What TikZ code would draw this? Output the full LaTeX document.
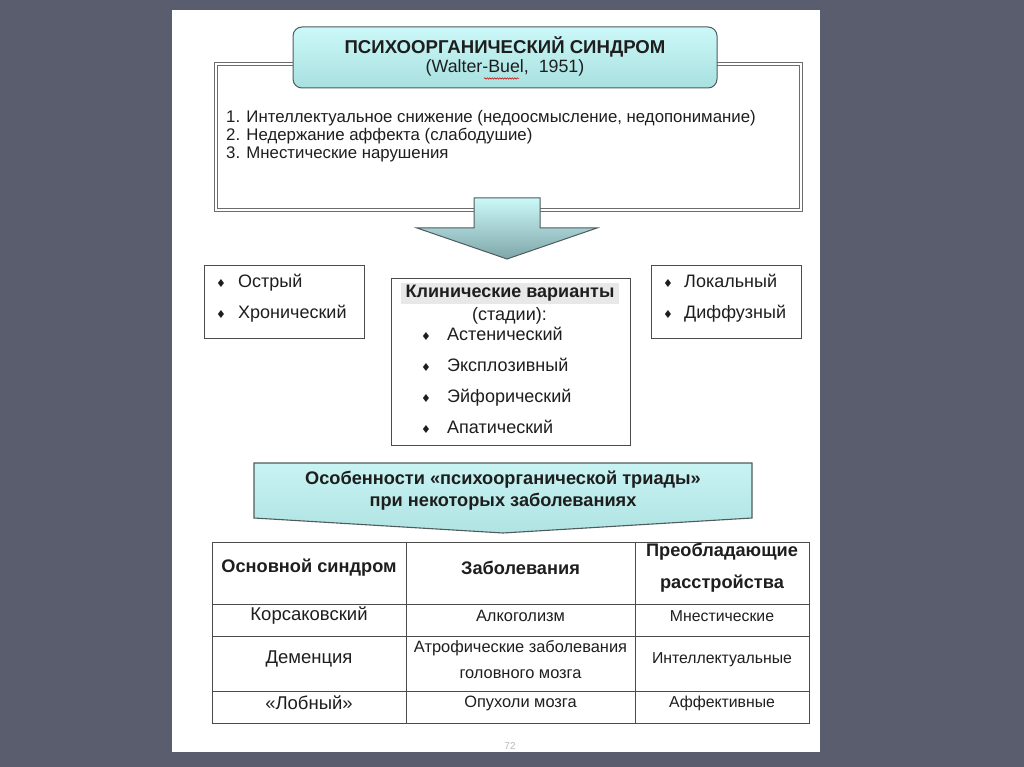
\documentclass[tikz,border=0pt]{standalone}
\usepackage{fontspec}
\setmainfont{Liberation Sans}
\newfontfamily\symfont{DejaVu Sans}
\usepackage{tikz}
\usetikzlibrary{calc}
\usetikzlibrary{decorations.pathmorphing}
\definecolor{slate}{HTML}{5A5D6E}
\definecolor{cyanhi}{HTML}{CCF8F8}
\definecolor{cyanlo}{HTML}{A8E0E0}
\definecolor{arrlo}{HTML}{7EA6A9}
\definecolor{bannhi}{HTML}{C8F3F3}
\definecolor{bannlo}{HTML}{B0E3E3}
\definecolor{edge}{HTML}{4F5B5C}
\definecolor{rim}{HTML}{6C6C6C}
\definecolor{ink}{HTML}{1E1E1E}
\newcommand{\fs}[2]{\fontsize{#1}{#2}\selectfont}
\newcommand{\bul}{{\symfont\fs{11}{11}\char"2666}}
\newcommand{\itm}[2]{\makebox[#1][l]{\bul}#2}

\begin{document}
\begin{tikzpicture}[x=1pt,y=-1pt]
\tikzstyle{box}=[draw=ink!80,line width=0.9pt,shape=rectangle,inner sep=0pt]
\tikzstyle{txt}=[text=ink,inner sep=0pt]
\tikzstyle{hcell}=[txt,align=center,font=\bfseries\fs{18.2}{32}]
\tikzstyle{cella}=[txt,align=center,font=\fs{18.5}{26}]
\tikzstyle{cellb}=[txt,align=center,font=\fs{16.4}{26}]
\tikzstyle{cellc}=[txt,align=center,font=\fs{15.8}{26}]

\useasboundingbox (0,0) rectangle (1024,767);
\fill[slate] (0,0) rectangle (1024,767);
\fill[white] (172,10) rectangle (820,752);
%
\node[draw=rim,double,double distance=1.6pt,line width=0.9pt,minimum width=585pt,minimum height=146pt](frame) at (508.5,137){};
\node[draw=edge,line width=1pt,rounded corners=9pt,top color=cyanhi,bottom color=cyanlo,minimum width=424pt,minimum height=61pt](title) at (505,57.5){};
\node[txt,font=\bfseries\fs{18.6}{20}](titlea) at (505,47){ПСИХООРГАНИЧЕСКИЙ СИНДРОМ};
\node[txt,font=\fs{17.8}{20}](titleb) at (505,68){(Walter-Buel,\ \ 1951)};
\draw[red!80!black,line width=0.5pt,decorate,decoration={snake,amplitude=0.7pt,segment length=2.5pt}] (484,78.5) -- (519,78.5);
\node[txt,anchor=north west,align=left,font=\fs{16.8}{18}](signs) at (226,110.5){1. Интеллектуальное снижение (недоосмысление, недопонимание)\\2. Недержание аффекта (слабодушие)\\3. Мнестические нарушения};
%
\draw[draw=edge,line width=1pt,top color=cyanhi,bottom color=arrlo] (474,198) -- (540,198) -- (540,228) -- (597,228) -- (507,259) -- (417,228) -- (474,228) -- cycle;
%
\node[box,minimum width=160pt,minimum height=73pt](course) at (284,301.5){};
\node[txt,anchor=west,align=left,font=\fs{18}{31}](courseitems) at (216,298.5){\itm{22pt}{Острый}\\\itm{22pt}{Хронический}};
\node[box,minimum width=239pt,minimum height=167pt](clin) at (510.5,361.5){};
\node[txt,fill=gray!18,inner xsep=4.5pt,inner ysep=2.5pt,font=\bfseries\fs{18}{18}](clinhead) at (510,293.5){Клинические варианты};
\node[txt,font=\fs{18}{18}](stages) at (509.5,316){(стадии):};
\node[txt,anchor=north west,align=left,font=\fs{18}{31}](variants) at (421,327){\itm{26pt}{Астенический}\\\itm{26pt}{Эксплозивный}\\\itm{26pt}{Эйфорический}\\\itm{26pt}{Апатический}};
\node[box,minimum width=150pt,minimum height=73pt](spread) at (726,301.5){};
\node[txt,anchor=west,align=left,font=\fs{18}{31}](spreaditems) at (663,298.5){\itm{21pt}{Локальный}\\\itm{21pt}{Диффузный}};
%
\draw[draw=edge,line width=1.1pt,top color=bannhi,bottom color=bannlo] (254,463) -- (752,463) -- (752,518) -- (503,533) -- (254,518) -- cycle;
\node[txt,align=center,font=\bfseries\fs{18.2}{22}](triad) at (503,490.5){Особенности «психоорганической триады»\\при некоторых заболеваниях};
%
\node[box,minimum width=597pt,minimum height=181pt](table) at (510.5,632.5){};
\draw[ink!80,line width=0.9pt] (212,604) -- (809,604) (212,636) -- (809,636) (212,691) -- (809,691);
\draw[ink!80,line width=0.9pt] (406,542) -- (406,723) (635,542) -- (635,723);
\node[hcell](h1) at (309,568){Основной синдром};
\node[hcell](h2) at (520.5,568){Заболевания};
\node[hcell](h3) at (722,568){Преобладающие\\расстройства};
\node[cella](a1) at (309,616){Корсаковский};
\node[cellb](a2) at (520.5,616){Алкоголизм};
\node[cellc](a3) at (722,616){Мнестические};
\node[cella](b1) at (309,659){Деменция};
\node[cellb](b2) at (520.5,660){Атрофические заболевания\\головного мозга};
\node[cellc](b3) at (722,660){Интеллектуальные};
\node[cella](c1) at (309,703){«Лобный»};
\node[cellb](c2) at (520.5,703){Опухоли мозга};
\node[cellc](c3) at (722,703){Аффективные};
%
\node[txt,text=gray!55,font=\fs{10}{12}](page) at (510,746){72};
\end{tikzpicture}
\end{document}
